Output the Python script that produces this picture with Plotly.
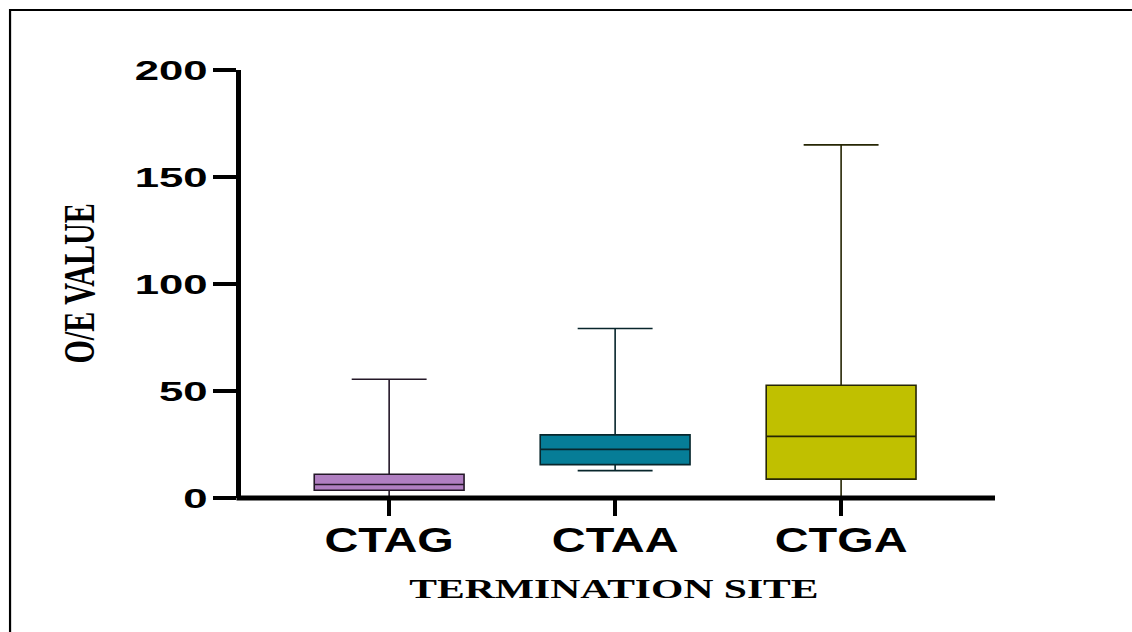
import plotly.graph_objects as go

# Five-number summaries of the observed/expected values per termination site
sites = ["CTAG", "CTAA", "CTGA"]
lower_whisker = [0.0, 12.8, 0.0]
q1_values = [3.6, 15.6, 8.8]
median_values = [6.3, 22.7, 28.8]
q3_values = [11.1, 29.5, 52.7]
upper_whisker = [55.5, 79.2, 165.0]

fill_colors = ["#b07fc1", "#067d97", "#c0c000"]
edge_colors = ["#241828", "#08262c", "#262604"]

y_ticks = [0, 50, 100, 150, 200]

fig = go.Figure()
for i, site in enumerate(sites):
    fig.add_trace(go.Box(
        x=[site],
        lowerfence=[lower_whisker[i]],
        q1=[q1_values[i]],
        median=[median_values[i]],
        q3=[q3_values[i]],
        upperfence=[upper_whisker[i]],
        boxpoints=False,
        width=0.663,
        whiskerwidth=0.5,
        fillcolor=fill_colors[i],
        line=dict(color=edge_colors[i], width=1.6),
        showlegend=False,
        hoverinfo="skip",
    ))

sans = "Liberation Sans, Arial, sans-serif"
serif = "Liberation Serif, Times New Roman, serif"

fig.update_layout(
    width=1132,
    height=632,
    margin=dict(l=240.5, r=137, t=70, b=134, autoexpand=False),
    paper_bgcolor="white",
    plot_bgcolor="white",
    showlegend=False,
    xaxis=dict(
        categoryorder="array",
        categoryarray=sites,
        range=[-0.6556, 2.681],
        showline=False,
        ticks="outside",
        ticklen=17,
        tickwidth=4,
        tickcolor="black",
        ticklabelstandoff=-6,
        showgrid=False,
        zeroline=False,
        tickfont=dict(family=sans, size=35, color="black", weight="bold"),
    ),
    yaxis=dict(
        range=[0, 200],
        tickvals=y_ticks,
        ticktext=[str(v) for v in y_ticks],
        showline=True,
        linecolor="black",
        linewidth=4.5,
        ticks="outside",
        ticklen=23,
        tickwidth=4,
        tickcolor="black",
        showgrid=False,
        zeroline=False,
        tickfont=dict(family=sans, size=28, color="black", weight="bold"),
    ),
    annotations=[
        dict(
            text="TERMINATION SITE",
            xref="paper", yref="paper",
            x=0.4949, y=-0.2126,
            xanchor="center", yanchor="middle",
            showarrow=False,
            font=dict(family=serif, size=27, color="black", weight="bold"),
        ),
        dict(
            text="O/E VALUE",
            xref="paper", yref="paper",
            x=-0.2154, y=0.501,
            xanchor="center", yanchor="middle",
            textangle=-90,
            showarrow=False,
            font=dict(family=serif, size=45, color="black", weight="bold"),
        ),
    ],
    shapes=[
        # horizontal axis line along the plot floor (y = 0)
        dict(
            type="line",
            xref="paper", yref="paper",
            x0=-0.006, x1=1.0,
            y0=0, y1=0,
            line=dict(color="black", width=5),
            layer="above",
        ),
        # outer frame
        dict(
            type="rect",
            xref="paper", yref="paper",
            x0=-0.3063, x1=1.2,
            y0=-0.34, y1=1.1402,
            line=dict(color="black", width=2.2),
            fillcolor="rgba(0,0,0,0)",
            layer="above",
        ),
    ],
)

# Wide lettering for the tick labels and titles (horizontal glyph stretch)
post_js = """
(function(){
  var gd = document.getElementById('{plot_id}');
  function stretch(sel, factor){
    gd.querySelectorAll(sel).forEach(function(t){
      if(!t.dataset.natural){ t.dataset.natural = t.getComputedTextLength(); }
      var n = parseFloat(t.dataset.natural);
      if(!(n > 0)) return;
      t.setAttribute('textLength', (n*factor).toFixed(2));
      t.setAttribute('lengthAdjust', 'spacingAndGlyphs');
    });
  }
  function apply(){
    try {
      stretch('.ytick text', 1.56);
      stretch('.xtick text', 1.34);
      stretch('g.annotation[data-index="0"] text', 1.54);
      stretch('g.annotation[data-index="1"] text', 0.67);
    } catch(e) {}
  }
  apply();
  if (gd.on) { gd.on('plotly_afterplot', apply); }
  setTimeout(apply, 50);
  setTimeout(apply, 400);
})();
"""

fig.write_html("out.html", post_script=post_js)
